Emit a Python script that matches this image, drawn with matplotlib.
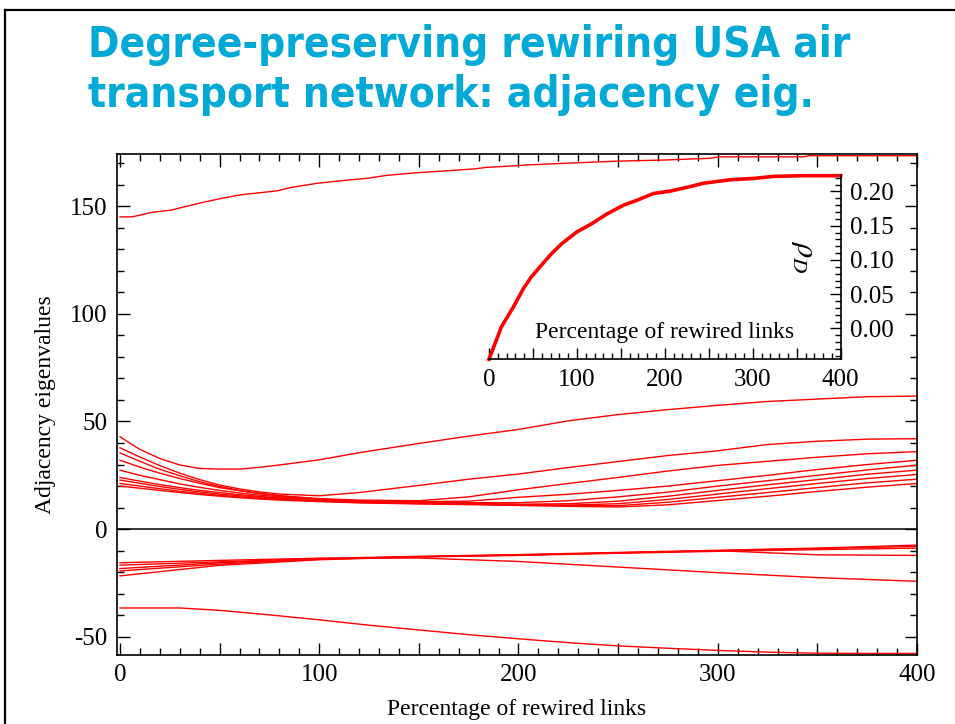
import numpy as np
import matplotlib
matplotlib.use("Agg")
import matplotlib.pyplot as plt
from matplotlib.ticker import MultipleLocator, FuncFormatter
from matplotlib.lines import Line2D

plt.rcParams["axes.unicode_minus"] = False
plt.rcParams["mathtext.fontset"] = "stix"

# ---- data ----
# largest eigenvalue
x_top = [0, 6, 16, 26, 31, 41, 51, 61, 79, 86, 99, 111, 124, 134, 149, 164,
         178, 184, 196, 204, 221, 250, 273, 296, 301, 343, 346, 400]
eig_top = [145.0, 145.0, 147.1, 148.2, 149.4, 151.6, 153.6, 155.3, 157.1, 158.7,
           160.6, 161.8, 162.9, 164.3, 165.5, 166.4, 167.3, 168.0, 168.6, 169.1,
           169.8, 170.9, 171.4, 172.2, 172.9, 172.9, 173.4, 173.4]

# bundle of positive eigenvalues
x_pos = [0, 10, 20, 30, 40, 50, 60, 70, 80, 100, 120, 150, 175, 200, 225, 250,
         275, 300, 325, 350, 375, 400]
eig_2 = [42.9, 37.0, 32.8, 29.8, 28.2, 27.9, 27.9, 28.7, 29.8, 32.2, 35.5, 39.8,
         43.2, 46.3, 50.3, 53.2, 55.5, 57.5, 59.3, 60.4, 61.5, 61.8]
eig_3 = [37.8, 33.5, 29.5, 26.0, 23.0, 20.5, 18.7, 17.3, 16.3, 15.5, 17.0, 20.3,
         23.2, 25.6, 28.6, 31.4, 34.2, 36.4, 39.3, 40.8, 41.8, 42.0]
eig_4 = [35.4, 31.5, 27.8, 24.8, 22.0, 19.8, 18.0, 16.7, 15.5, 14.2, 13.5, 13.2,
         15.0, 18.3, 21.2, 24.0, 27.0, 29.6, 31.5, 33.4, 35.0, 36.0]
eig_5 = [32.0, 28.8, 26.0, 23.5, 21.3, 19.3, 17.8, 16.5, 15.5, 14.0, 13.2, 12.8,
         13.0, 14.8, 16.2, 18.0, 20.0, 22.5, 25.0, 27.7, 30.0, 32.0]
eig_6 = [27.4, 25.0, 23.0, 21.0, 19.4, 18.0, 16.8, 15.8, 15.0, 13.8, 13.0, 12.5,
         12.3, 12.3, 13.2, 15.0, 17.2, 20.0, 22.5, 25.0, 27.5, 29.7]
eig_7 = [24.0, 22.3, 20.7, 19.3, 18.0, 17.0, 16.0, 15.2, 14.5, 13.4, 12.8, 12.3,
         12.0, 11.6, 11.8, 13.0, 15.3, 18.0, 20.6, 23.0, 25.5, 27.4]
eig_8 = [22.8, 21.3, 19.8, 18.5, 17.3, 16.3, 15.5, 14.8, 14.2, 13.2, 12.6, 12.1,
         11.8, 11.4, 11.2, 11.8, 13.8, 16.3, 18.8, 21.2, 23.5, 25.4]
eig_9 = [21.2, 20.0, 18.8, 17.6, 16.6, 15.7, 15.0, 14.3, 13.8, 13.0, 12.4, 11.9,
         11.6, 11.2, 10.9, 10.9, 12.5, 14.8, 17.0, 19.3, 21.5, 23.2]
eig_10 = [20.0, 19.0, 18.0, 17.0, 16.1, 15.3, 14.6, 14.0, 13.5, 12.8, 12.2, 11.7,
          11.4, 11.0, 10.6, 10.3, 11.3, 13.3, 15.3, 17.5, 19.5, 21.2]

# negative eigenvalues
x_neg = [0, 50, 100, 150, 200, 250, 300, 350, 400]
neg_a = [-15.6, -14.5, -13.5, -13.4, -15.0, -17.6, -20.2, -22.5, -24.2]
neg_b = [-19.4, -16.2, -14.0, -12.8, -12.0, -11.0, -10.0, -11.9, -12.2]
neg_c = [-16.7, -15.2, -13.6, -12.6, -11.8, -10.8, -9.8, -8.8, -7.4]
neg_d = [-18.3, -15.6, -13.8, -12.8, -12.0, -11.0, -10.0, -9.0, -8.0]
neg_e = [-21.7, -16.8, -14.2, -12.9, -12.2, -11.2, -10.3, -9.5, -8.8]

x_low = [0, 30, 50, 75, 100, 125, 150, 175, 200, 225, 250, 275, 300, 325, 350,
         375, 400]
eig_low = [-36.6, -36.6, -37.7, -39.8, -42.1, -44.6, -46.8, -49.0, -50.9, -52.7,
           -54.2, -55.3, -56.3, -57.1, -57.6, -57.7, -57.7]

# inset: rho_D vs rewiring
x_rho = [0, 14, 28, 39, 48, 58, 71, 83, 100, 117, 134, 153, 168, 187, 206, 225,
         244, 274, 301, 324, 358, 400]
rho_d = [-0.045, 0.002, 0.032, 0.058, 0.075, 0.090, 0.109, 0.124, 0.141, 0.153,
         0.167, 0.180, 0.187, 0.197, 0.2005, 0.206, 0.212, 0.217, 0.219, 0.222,
         0.223, 0.223]

pos_lines = [eig_2, eig_3, eig_4, eig_5, eig_6, eig_7, eig_8, eig_9, eig_10]
neg_lines = [neg_a, neg_b, neg_c, neg_d, neg_e]

W, H = 955, 724
fig = plt.figure(figsize=(W / 100, H / 100), dpi=100)

# slide frame
fig.add_artist(Line2D([5 / W, 5 / W], [0, 1 - 10 / H], transform=fig.transFigure,
                      color="black", lw=1.6))
fig.add_artist(Line2D([5 / W, 1], [1 - 10 / H, 1 - 10 / H], transform=fig.transFigure,
                      color="black", lw=1.6))

# title
title_kw = dict(fontsize=30.3, fontweight="bold", fontstretch="condensed",
                color="#00a9d6", family="DejaVu Sans", va="baseline", ha="left")
fig.text(88 / W, 1 - 57 / H, "Degree-preserving rewiring USA air", **title_kw)
fig.text(88 / W, 1 - 107 / H, "transport network: adjacency eig.", **title_kw)

serif = "Liberation Serif"

# main axes
ax = fig.add_axes([117 / W, 1 - 654.5 / H, (917 - 117) / W, (654.5 - 154) / H])
ax.plot(x_top, eig_top, color="#ff0000", lw=1.0)
for ys in pos_lines:
    ax.plot(x_pos, ys, color="#ff0000", lw=1.0)
for ys in neg_lines:
    ax.plot(x_neg, ys, color="#ff0000", lw=1.0)
ax.plot(x_low, eig_low, color="#ff0000", lw=1.0)
ax.axhline(0, color="black", lw=1.1)

ax.set_xlim(-1.5, 400)
ax.set_ylim(-58.2, 174.2)
ax.xaxis.set_major_locator(MultipleLocator(50))
ax.xaxis.set_minor_locator(MultipleLocator(10))
ax.xaxis.set_major_formatter(FuncFormatter(lambda v, p: "%d" % v if v % 100 == 0 else ""))
ax.yaxis.set_major_locator(MultipleLocator(50))
ax.yaxis.set_minor_locator(MultipleLocator(10))
ax.yaxis.set_major_formatter(FuncFormatter(lambda v, p: "%d" % v))
ax.tick_params(which="both", direction="in", top=True, right=True, width=1.0)
ax.tick_params(which="major", length=9, labelsize=18, pad=7)
ax.tick_params(which="minor", length=5)
for lab in ax.get_xticklabels() + ax.get_yticklabels():
    lab.set_family(serif)
for s in ax.spines.values():
    s.set_linewidth(1.2)
ax.set_xlabel("Percentage of rewired links", family=serif, fontsize=17, labelpad=9)
ax.set_ylabel("Adjacency eigenvalues", family=serif, fontsize=17, labelpad=10)

# inset
ax_in = fig.add_axes([489 / W, 1 - 359.3 / H, (840.7 - 489) / W, (359.3 - 175) / H])
ax_in.plot(x_rho, rho_d, color="#ff0000", lw=2.6, clip_on=False)
ax_in.set_xlim(0, 400)
ax_in.set_ylim(-0.045, 0.224)
ax_in.spines["left"].set_visible(False)
ax_in.spines["top"].set_visible(False)
for s in ("bottom", "right"):
    ax_in.spines[s].set_linewidth(1.2)
ax_in.yaxis.tick_right()
ax_in.xaxis.set_major_locator(MultipleLocator(50))
ax_in.xaxis.set_minor_locator(MultipleLocator(10))
ax_in.xaxis.set_major_formatter(FuncFormatter(lambda v, p: "%d" % v if v % 100 == 0 else ""))
ax_in.yaxis.set_major_locator(MultipleLocator(0.05))
ax_in.yaxis.set_minor_locator(MultipleLocator(0.01))
ax_in.yaxis.set_major_formatter(FuncFormatter(lambda v, p: "%.2f" % v))
ax_in.tick_params(which="both", direction="in", width=1.0)
ax_in.tick_params(which="major", length=8, labelsize=18, pad=7)
ax_in.tick_params(which="minor", length=4)
for lab in ax_in.get_xticklabels() + ax_in.get_yticklabels():
    lab.set_family(serif)
ax_in.text(0.5, 0.143, "Percentage of rewired links", transform=ax_in.transAxes,
           ha="center", va="center", family=serif, fontsize=17)
ax_in.text(0.893, 0.555, r"$\rho_D$", transform=ax_in.transAxes, rotation=-90,
           ha="center", va="center", fontsize=22)

fig.savefig("out.png", dpi=100)
